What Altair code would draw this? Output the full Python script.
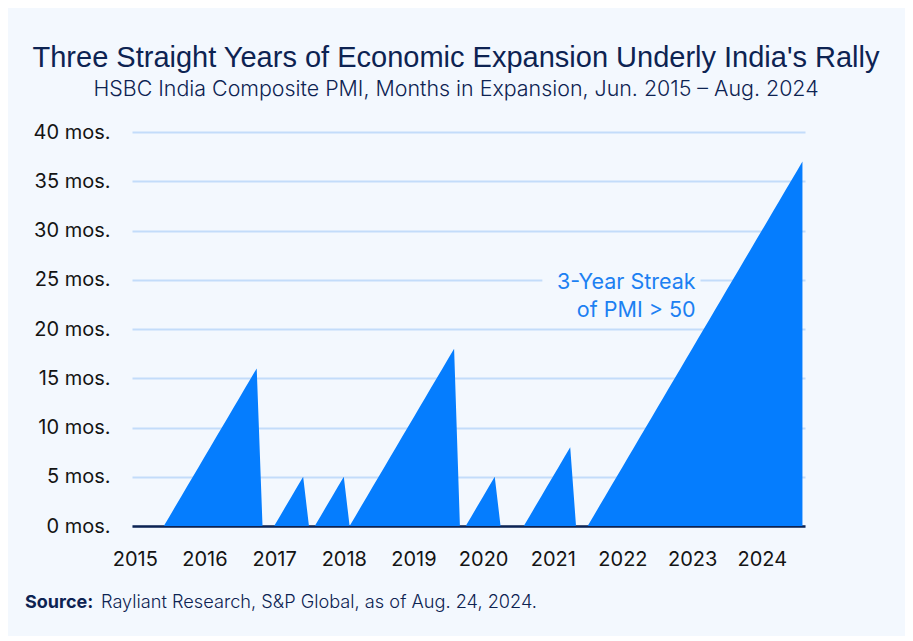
import altair as alt
import pandas as pd

# ---- data ----
first_month = "2015-06"
last_month = "2024-08"
streak_months = [
    0,
    1, 2, 3, 4, 5, 6, 7, 8, 9, 10, 11, 12, 13, 14, 15, 16,
    0, 0, 0,
    1, 2, 3, 4, 5,
    0, 0,
    1, 2, 3, 4, 5,
    0,
    1, 2, 3, 4, 5, 6, 7, 8, 9, 10, 11, 12, 13, 14, 15, 16, 17, 18,
    0, 0,
    1, 2, 3, 4, 5,
    0, 0, 0, 0, 0,
    1, 2, 3, 4, 5, 6, 7, 8,
    0, 0, 0,
    1, 2, 3, 4, 5, 6, 7, 8, 9, 10, 11, 12, 13, 14, 15, 16, 17, 18, 19, 20,
    21, 22, 23, 24, 25, 26, 27, 28, 29, 30, 31, 32, 33, 34, 35, 36, 37,
]
year_ticks = [2015, 2016, 2017, 2018, 2019, 2020, 2021, 2022, 2023, 2024]
y_ticks = [0, 5, 10, 15, 20, 25, 30, 35, 40]

title_text = "Three Straight Years of Economic Expansion Underly India's Rally"
subtitle_text = "HSBC India Composite PMI, Months in Expansion, Jun. 2015 \u2013 Aug. 2024"
source_label = "Source:"
source_text = "Rayliant Research, S&P Global, as of Aug. 24, 2024."
note_text = "3-Year Streak\nof PMI > 50"

# ---- styling ----
BG = "#f3f8fe"
BLUE = "#057dfe"
NAVY = "#0d2352"
GRID = "#c3dcfa"
NOTE_BLUE = "#1c80f2"

periods = pd.period_range(first_month, last_month, freq="M")
df = pd.DataFrame({
    "month": [p.strftime("%Y-%m") for p in periods],
    "t": [p.year + (p.month - 1) / 12 for p in periods],
    "streak": streak_months,
})

W, H = 673, 394
x_scale = alt.Scale(domain=[2014.96, 2024.62], nice=False, zero=False)
y_scale = alt.Scale(domain=[0, 40], nice=False)

area = alt.Chart(df).mark_area(color=BLUE, interpolate="linear", opacity=1).encode(
    x=alt.X("t:Q", scale=x_scale, title=None,
            axis=alt.Axis(values=year_ticks, format="d", grid=False, ticks=False,
                          domain=True, domainColor=NAVY, domainWidth=2.5,
                          labelFontSize=20, labelFont="Inter", labelColor="#141414",
                          labelPadding=23, labelFlush=False)),
    y=alt.Y("streak:Q", scale=y_scale, title=None,
            axis=alt.Axis(values=y_ticks, labelExpr="datum.value + ' mos.'",
                          grid=True, gridColor=GRID, gridWidth=2, ticks=False,
                          domain=False, labelFontSize=20, labelFont="Inter",
                          labelColor="#141414", labelPadding=22)),
)

mask = alt.Chart(pd.DataFrame({"x": [2020.85], "x2": [2023.12], "y": [23.9], "y2": [26.3]})).mark_rect(
    color=BG).encode(
    x=alt.X("x:Q", title=None), x2="x2", y=alt.Y("y:Q", title=None), y2="y2")

note = alt.Chart(pd.DataFrame({"x": [2023.05], "y": [24.1], "label": [note_text]})).mark_text(
    align="right", baseline="alphabetic", font="Inter", fontSize=21.5, color=NOTE_BLUE,
    lineBreak="\n", lineHeight=28.4).encode(
    x=alt.X("x:Q", title=None), y=alt.Y("y:Q", title=None), text="label:N")

one = alt.Data(values=[{}])

title = alt.Chart(one).mark_text(
    align="center", baseline="alphabetic", font="Liberation Sans", fontSize=29, color=NAVY
).encode(x=alt.value(324), y=alt.value(-65), text=alt.value(title_text))

subtitle = alt.Chart(one).mark_text(
    align="center", baseline="alphabetic", font="Inter", fontWeight=300, fontSize=21.4, color=NAVY
).encode(x=alt.value(324), y=alt.value(-36), text=alt.value(subtitle_text))

src1 = alt.Chart(one).mark_text(
    align="left", baseline="alphabetic", font="Inter", fontWeight="bold", fontSize=18, color=NAVY
).encode(x=alt.value(-107), y=alt.value(476), text=alt.value(source_label))

src2 = alt.Chart(one).mark_text(
    align="left", baseline="alphabetic", font="Inter", fontWeight=300, fontSize=18.2, color=NAVY
).encode(x=alt.value(-31), y=alt.value(476), text=alt.value(source_text))

chart = alt.layer(area, mask, note, title, subtitle, src1, src2).properties(
    width=W, height=H,
    background=BG,
    padding={"left": 124, "top": 124, "right": 100, "bottom": 110},
    autosize=alt.AutoSizeParams(type="none"),
).configure_view(stroke=None)

chart.save("out.html", embed_options={"renderer": "svg", "actions": False})
